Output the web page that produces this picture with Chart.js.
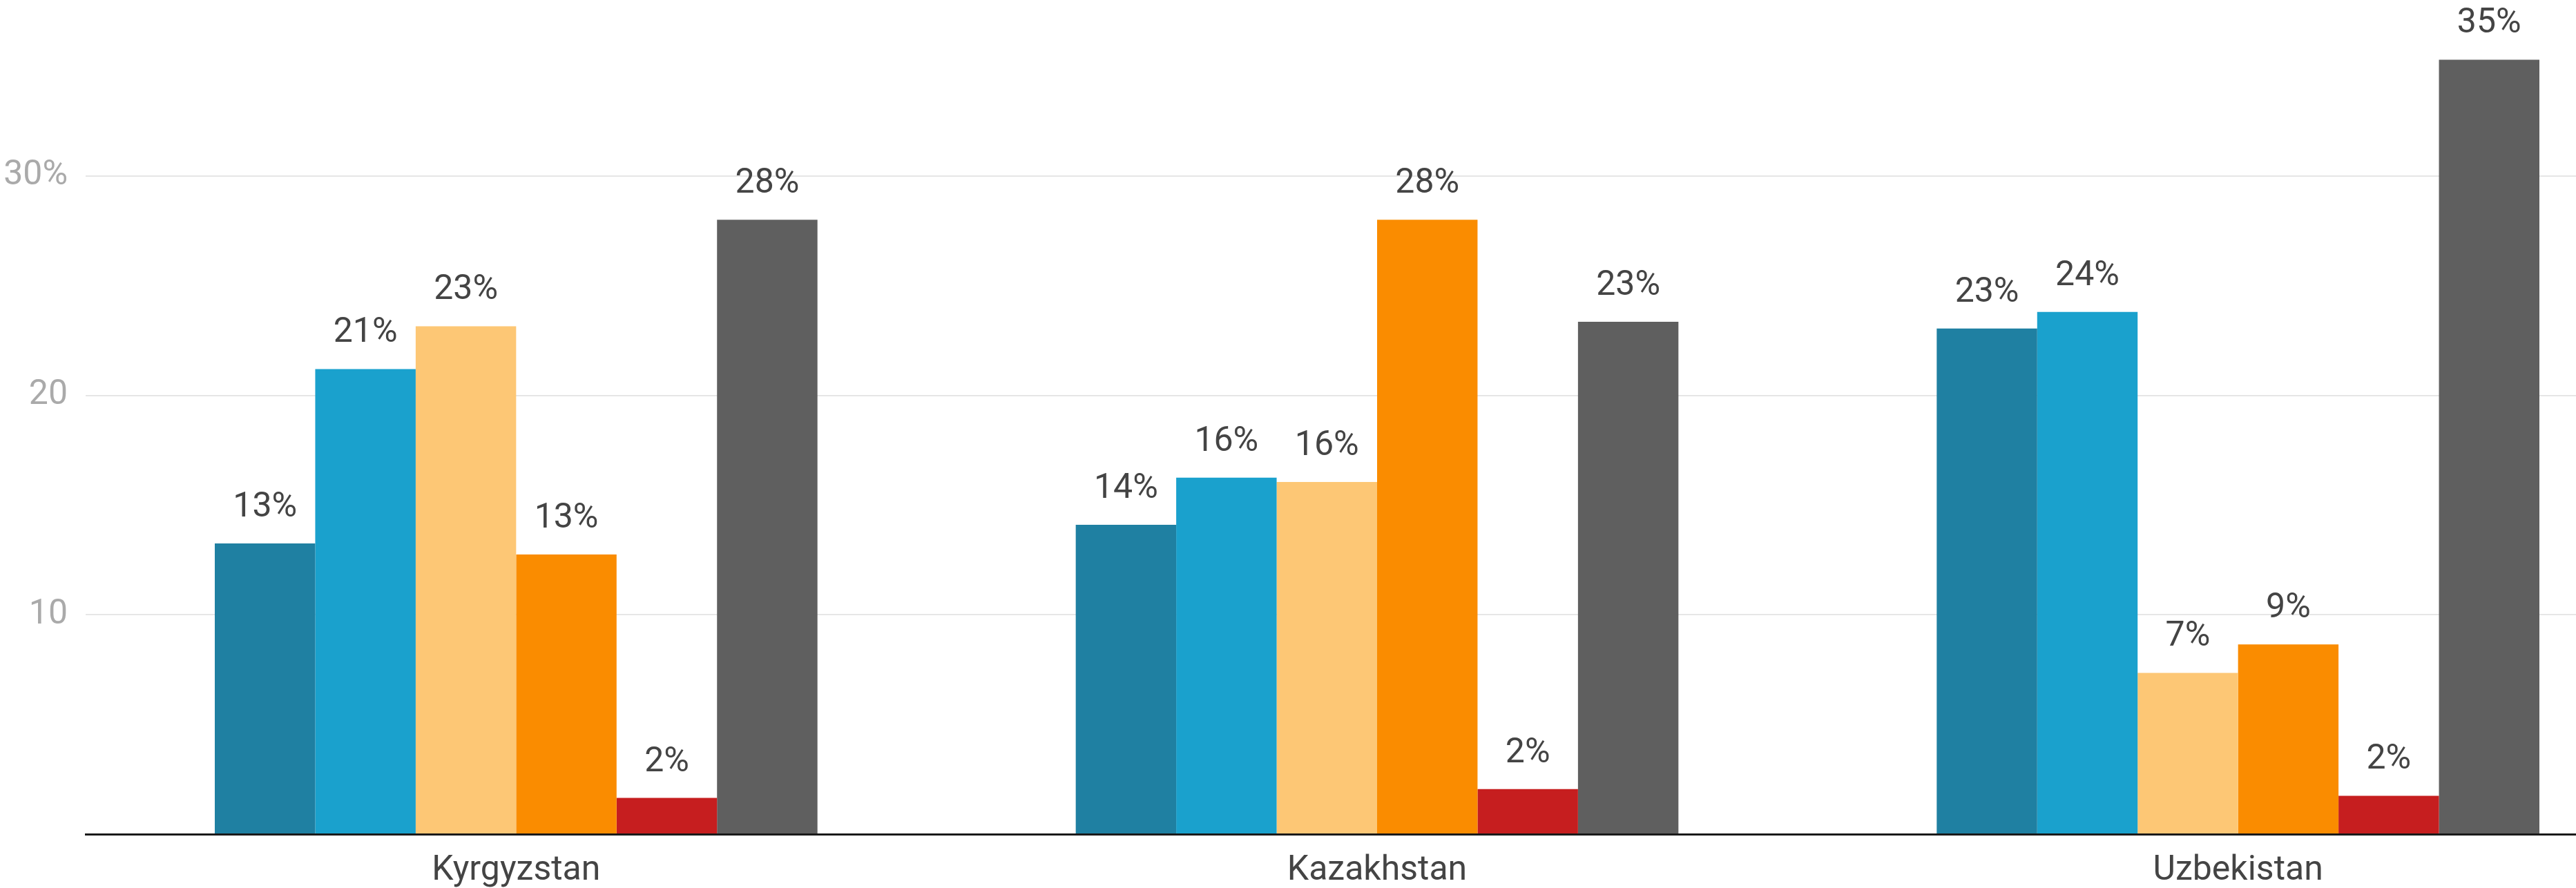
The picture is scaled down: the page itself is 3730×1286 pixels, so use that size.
<!DOCTYPE html>
<html>
<head>
<meta charset="utf-8">
<script src="https://cdn.jsdelivr.net/npm/chart.js@4.4.1/dist/chart.umd.min.js"></script>
<style>
  html, body { margin: 0; padding: 0; background: #ffffff; overflow: hidden; width: 3730px; height: 1286px; }
  #wrap { width: 3870px; height: 1286px; }
</style>
</head>
<body>
<div id="wrap"><canvas id="c" width="3870" height="1286"></canvas></div>
<script>
// ---- data ----
const categories = ["Kyrgyzstan", "Kazakhstan", "Uzbekistan"];
const series1 = [13.25, 14.1, 23.05];
const series2 = [21.2, 16.25, 23.8];
const series3 = [23.15, 16.05, 7.35];
const series4 = [12.75, 28.0, 8.65];
const series5 = [1.65, 2.05, 1.75];
const series6 = [28.0, 23.35, 35.3];
const yTickValues = [0, 10, 20, 30];
const yTickLabels = ["", "10", "20", "30%"];

const colors = ["#1f80a2", "#1aa1cd", "#fdc775", "#fa8c00", "#c61e1f", "#5f5f5f"];
const seriesList = [series1, series2, series3, series4, series5, series6];

const valueLabels = {
  id: 'valueLabels',
  afterDatasetsDraw(chart) {
    const ctx = chart.ctx;
    ctx.save();
    ctx.font = '50px Roboto';
    ctx.fillStyle = '#444444';
    ctx.textAlign = 'center';
    ctx.textBaseline = 'alphabetic';
    chart.data.datasets.forEach((ds, di) => {
      const meta = chart.getDatasetMeta(di);
      meta.data.forEach((bar, i) => {
        ctx.fillText(Math.round(ds.data[i]) + '%', bar.x, bar.y - 39);
      });
    });
    ctx.restore();
  }
};

function zeroPad(scale) {
  scale.paddingTop = 0; scale.paddingBottom = 0;
  scale.paddingLeft = 0; scale.paddingRight = 0;
}

new Chart(document.getElementById('c'), {
  type: 'bar',
  data: {
    labels: categories,
    datasets: seriesList.map((d, i) => ({
      label: 'Series ' + (i + 1),
      data: d,
      backgroundColor: colors[i],
      borderWidth: 0,
      categoryPercentage: 0.7,
      barPercentage: 1.0
    }))
  },
  options: {
    responsive: false,
    animation: false,
    devicePixelRatio: 1,
    layout: { padding: { left: 5, right: 6, top: 0, bottom: 0 } },
    plugins: { legend: { display: false }, tooltip: { enabled: false } },
    scales: {
      x: {
        afterFit: (s) => { s.height = 78; zeroPad(s); },
        grid: { display: false, drawTicks: false },
        border: { display: true, color: '#1a1a1a', width: 3 },
        ticks: { font: { family: 'Roboto', size: 50, lineHeight: 1.0 }, color: '#444444', padding: 28 }
      },
      y: {
        min: 0,
        max: 38.02,
        afterFit: (s) => { s.width = 119; zeroPad(s); },
        afterBuildTicks: (scale) => { scale.ticks = yTickValues.map(v => ({ value: v })); },
        grid: {
          drawTicks: false,
          lineWidth: 2,
          color: (c) => (c.tick && c.tick.value === 0) ? 'rgba(0,0,0,0)' : '#e6e6e6'
        },
        border: { display: false },
        ticks: {
          font: { family: 'Roboto', size: 50 },
          color: '#aaaaaa',
          padding: 26,
          callback: (v) => { const k = yTickValues.indexOf(v); return k >= 0 ? yTickLabels[k] : ''; }
        }
      }
    }
  },
  plugins: [valueLabels]
});
</script>
</body>
</html>
